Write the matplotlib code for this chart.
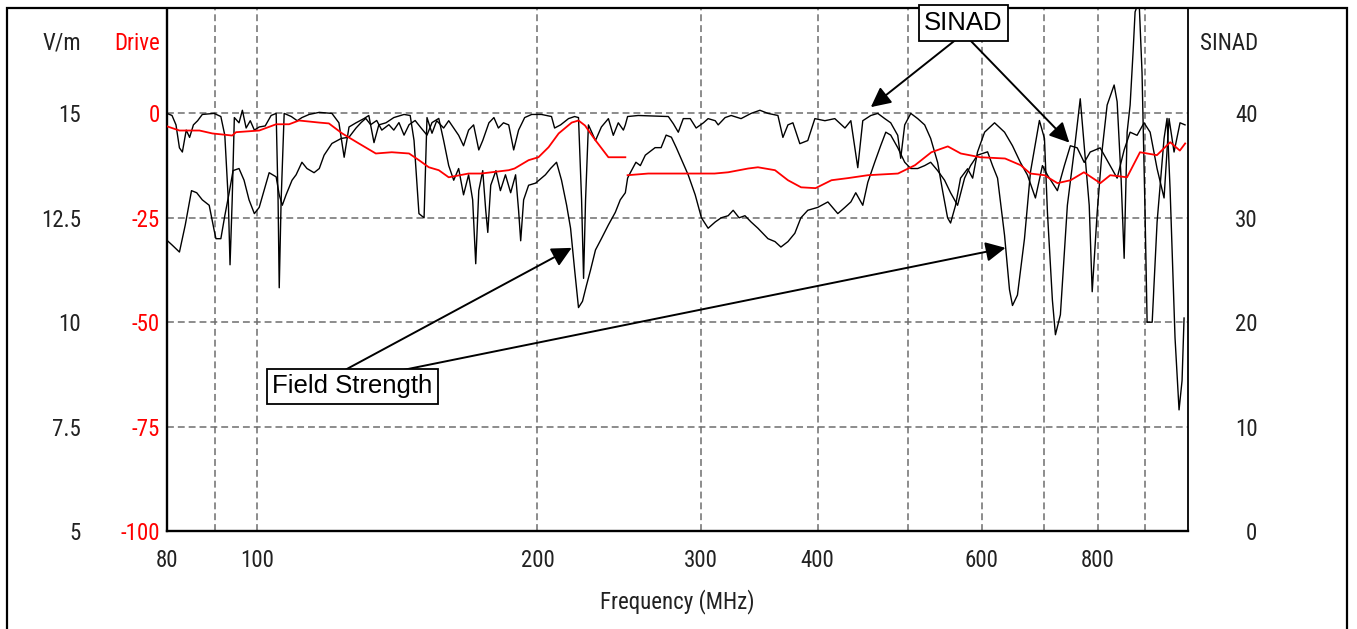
"""Recreates the radiated immunity sweep plot: field strength, drive level and SINAD vs frequency."""

import numpy as np
import matplotlib
matplotlib.use("Agg")
import matplotlib.pyplot as plt
from matplotlib import font_manager
from matplotlib.patches import Rectangle
from matplotlib.ticker import NullLocator, NullFormatter

W, H = 1357, 629


def pick_font(*names):
    installed = {f.name for f in font_manager.fontManager.ttflist}
    for n in names:
        if n in installed:
            return n
    return "DejaVu Sans"


NARROW = pick_font("Liberation Sans Narrow", "Roboto Condensed", "DejaVu Sans")
ARIAL = pick_font("Liberation Sans", "Arial", "DejaVu Sans")

# --- data ---------------------------------------------------------------
# drive level (dB), two sweep bands -> nan between them
drive_freq = [80.0, 82.5, 86.7, 89.5, 94.0, 94.9, 100.5, 104.8, 108.2, 110.9, 116.6, 119.4,
              123.4, 128.6, 134.1, 139.5, 145.6, 149.2, 152.9, 156.7, 160.6, 168.7, 174.0,
              186.3, 189.0, 195.7, 200.5, 205.6, 210.8, 217.7, 221.4, 225.0, 231.0, 238.4,
              248.6, np.nan,
              250.0, 263.1, 288.0, 310.0, 320.6, 336.8, 345.1, 360.0, 371.7, 384.0, 398.0,
              414.0, 431.1, 453.0, 488.0, 509.0, 530.0, 552.0, 570.0, 598.0, 636.0, 661.0,
              677.0, 701.0, 724.0, 748.0, 773.0, 805.0, 825.0, 860.0, 888.0, 926.0, 957.0,
              980.0, 993.0]
drive_db = [-3.1, -4.1, -4.1, -4.8, -5.3, -4.5, -4.1, -2.6, -2.6, -1.7, -2.2, -2.4,
            -4.8, -7.2, -9.6, -9.3, -9.6, -11.2, -12.9, -13.6, -15.3, -14.4, -14.4,
            -13.6, -13.2, -11.2, -10.5, -8.1, -4.8, -2.2, -1.7, -2.9, -6.5, -10.5,
            -10.5, np.nan,
            -14.8, -14.4, -14.4, -14.4, -14.1, -13.2, -12.9, -13.6, -16.0, -17.7, -17.9,
            -16.0, -15.5, -14.8, -14.4, -12.4, -9.3, -7.9, -9.6, -10.5, -10.8, -12.4,
            -14.4, -14.8, -16.7, -16.0, -14.1, -16.7, -14.8, -15.3, -9.3, -10.0, -6.9,
            -8.9, -7.2]

# SINAD (dB)
sinad_freq = [80.0, 81.0, 81.8, 82.5, 83.1, 83.9, 84.6, 85.4, 86.3, 87.3, 89.9, 91.4,
              92.3, 93.1, 93.5, 94.0, 94.5, 95.6, 96.4, 97.3, 98.3, 99.3, 100.5, 102.0,
              103.5, 104.8, 105.3, 105.6, 106.1, 106.9, 108.8, 110.4, 111.7, 113.7, 116.6,
              120.3, 122.4, 124.0, 125.5, 127.7, 130.2, 131.8, 133.5, 135.1, 137.5, 140.2,
              143.8, 146.0, 147.4, 149.2, 151.1, 152.2, 154.1, 155.9, 158.6, 160.6, 162.6,
              164.6, 166.6, 168.7, 170.8, 173.0, 174.7, 177.4, 179.6, 181.6, 183.9, 186.3,
              188.6, 190.9, 193.8, 197.2, 202.0, 207.1, 208.7, 211.8, 216.0, 219.3, 221.4,
              223.1, 224.2, 225.3, 226.9, 230.9, 234.3, 238.4, 241.3, 244.3, 247.4, 248.6,
              250.0, 256.7, 276.5, 280.0, 283.4, 286.9, 291.9, 296.2, 301.6, 305.1, 310.5,
              312.8, 318.2, 323.0, 331.0, 339.3, 346.8, 353.8, 362.6, 367.1, 371.7, 376.3,
              382.8, 390.4, 397.3, 407.3, 417.4, 428.0, 434.3, 441.8, 447.3, 456.3, 464.2,
              472.3, 479.3, 487.7, 491.3, 496.2, 503.7, 512.4, 521.3, 529.1, 538.3, 544.9,
              551.7, 555.8, 562.7, 569.7, 579.7, 587.0, 594.1, 604.6, 619.7, 635.2, 647.8,
              660.6, 672.2, 685.6, 697.6, 706.3, 723.9, 736.5, 747.5, 760.3, 773.6, 785.1,
              804.7, 824.8, 839.2, 853.9, 866.6, 881.6, 897.0, 910.6, 926.4, 942.5, 954.2,
              966.1, 980.5, 992.7]
sinad_db = [40.0, 39.8, 38.9, 36.7, 36.3, 38.4, 37.7, 38.9, 39.3, 39.9, 40.0, 39.7,
            37.9, 31.7, 25.5, 31.7, 39.6, 39.1, 40.3, 38.6, 39.3, 38.4, 38.7, 38.8,
            39.8, 40.0, 31.7, 23.3, 31.7, 40.0, 39.7, 39.3, 39.6, 39.9, 40.1,
            40.0, 39.1, 35.8, 38.7, 39.1, 39.5, 39.8, 37.2, 38.9, 39.1, 39.6,
            39.9, 39.8, 37.4, 30.4, 30.0, 39.6, 38.1, 39.3, 38.6, 39.3, 38.6,
            37.9, 36.9, 38.4, 38.9, 36.5, 37.4, 39.1, 39.6, 38.6, 39.1, 38.9,
            36.5, 38.4, 39.6, 39.9, 39.9, 39.7, 38.6, 38.9, 39.5, 39.7, 39.6,
            31.7, 24.2, 31.7, 38.9, 37.4, 38.7, 39.5, 37.9, 39.1, 38.4, 38.9,
            39.7, 39.8, 39.7, 39.0, 38.2, 39.5, 39.5, 38.6, 39.1, 39.5, 39.3,
            38.9, 39.6, 39.8, 39.5, 40.0, 40.3, 40.0, 39.8, 37.7, 38.9, 39.1,
            37.1, 37.4, 39.5, 39.3, 39.5, 38.6, 39.3, 34.8, 39.3, 39.8, 40.0,
            39.5, 39.1, 37.9, 35.7, 38.9, 40.0, 39.5, 38.9, 37.6, 35.3, 32.6,
            30.0, 29.5, 31.2, 33.8, 34.7, 33.8, 36.3, 38.2, 39.1, 38.2, 36.9,
            35.3, 34.1, 31.9, 35.0, 34.1, 32.6, 35.0, 36.9, 36.7, 35.3, 36.3,
            36.7, 35.0, 33.8, 36.5, 38.2, 37.9, 39.1, 38.2, 34.7, 31.9, 39.5,
            36.3, 39.1, 38.9]

# field strength (V/m)
field_freq = [80.0, 81.0, 82.5, 83.7, 85.0, 86.1, 87.3, 88.8, 89.9, 90.3, 91.4, 92.3,
              93.3, 94.2, 95.6, 96.8, 98.0, 99.3, 100.5, 101.7, 103.0, 104.8, 105.6, 106.4,
              107.4, 109.0, 110.1, 111.7, 113.1, 115.1, 116.6, 118.0, 120.3, 123.1, 125.5,
              127.7, 129.3, 130.8, 132.4, 134.4, 136.1, 138.5, 140.2, 142.0, 143.8, 145.6,
              147.8, 150.0, 152.2, 154.1, 156.7, 158.6, 160.6, 162.6, 164.6, 166.6, 168.7,
              170.4, 171.7, 173.0, 174.7, 176.0, 176.9, 178.2, 180.5, 182.5, 184.8, 187.2,
              189.5, 190.9, 191.9, 193.3, 195.7, 199.1, 202.0, 204.0, 206.6, 209.7, 212.3,
              215.0, 217.1, 219.3, 221.4, 223.6, 225.8, 228.1, 230.9, 234.3, 238.4, 242.5,
              245.5, 248.6,
              250.0, 251.0, 255.2, 258.0, 261.2, 267.6, 271.6, 275.0, 278.6, 282.0, 286.9,
              290.4, 295.5, 300.1, 305.1, 310.5, 315.1, 320.6, 324.6, 329.4, 334.2, 339.3,
              345.1, 353.8, 360.0, 365.3, 371.7, 378.1, 383.8, 390.4, 400.2, 410.3, 420.5,
              428.0, 434.3, 439.6, 447.3, 452.9, 460.7, 467.6, 473.5, 479.3, 487.7, 496.2,
              503.7, 512.4, 521.3, 529.1, 538.3, 547.6, 555.8, 565.5, 575.4, 584.0, 594.1,
              609.1, 616.6, 624.3, 635.2, 643.0, 647.8, 655.8, 667.3, 677.3, 692.4, 701.1,
              706.3, 715.0, 720.4, 729.3, 742.0, 754.9, 760.3, 766.0, 773.6, 783.2, 789.0,
              798.8, 808.7, 818.7, 833.0, 839.2, 847.6, 853.9, 860.2, 866.6, 873.1, 877.3,
              886.0, 892.5, 899.2, 903.8, 915.2, 926.4, 942.5, 949.5, 956.6, 968.4, 978.1,
              985.4, 990.3]
field_vm = [11.96, 11.85, 11.68, 12.33, 13.15, 13.10, 12.93, 12.80, 12.20, 12.00, 12.00, 12.55,
            13.10, 13.63, 13.68, 13.40, 12.93, 12.60, 12.75, 13.15, 13.58, 13.48, 13.05, 12.80,
            13.05, 13.40, 13.53, 13.83, 13.68, 13.58, 13.68, 14.00, 14.28, 14.40, 14.43,
            14.65, 14.78, 14.88, 14.73, 14.83, 14.60, 14.73, 14.60, 14.78, 14.48, 14.73,
            14.83, 14.65, 14.48, 14.78, 14.88, 14.35, 13.75, 13.40, 13.68, 13.05, 13.53,
            12.93, 11.40, 13.15, 13.63, 12.68, 12.15, 13.28, 13.63, 13.15, 13.53, 13.10,
            13.53, 12.68, 11.95, 12.93, 13.28, 13.33, 13.45, 13.53, 13.68, 13.83, 13.40,
            12.80, 12.25, 11.25, 10.35, 10.50, 10.88, 11.25, 11.73, 12.00, 12.33, 12.63,
            12.93, 13.10,
            13.45, 13.53, 13.83, 13.75, 14.00, 14.18, 14.18, 14.48, 14.43, 14.18, 13.80,
            13.53, 13.05, 12.50, 12.25, 12.40, 12.50, 12.55, 12.68, 12.50, 12.55, 12.40,
            12.25, 12.00, 11.93, 11.80, 11.93, 12.13, 12.50, 12.68, 12.75, 12.88, 12.60,
            12.75, 12.88, 13.10, 12.80, 13.35, 13.83, 14.23, 14.55, 14.48, 14.18, 13.83,
            13.68, 13.68, 13.75, 13.83, 13.63, 13.40, 13.10, 12.80, 13.45, 13.75, 14.00,
            14.08, 13.75, 13.45, 12.08, 10.78, 10.40, 10.65, 12.00, 13.60, 14.83, 14.40,
            12.63, 10.53, 9.70, 10.18, 12.80, 14.13, 14.73, 15.35, 14.23, 12.80, 10.73,
            12.63, 14.13, 15.20, 15.68, 15.28, 13.40, 11.53, 14.55, 15.20, 16.50, 17.43,
            17.70, 15.98, 12.63, 10.00, 10.00, 12.40, 14.40, 14.88, 13.20, 9.63, 7.90,
            8.60, 10.10]

x_ticks = [80, 100, 200, 300, 400, 600, 800]
x_grid = [90, 100, 200, 300, 400, 500, 600, 700, 800, 900]
vm_ticks = [5, 7.5, 10, 12.5, 15]
vm_labels = ["5", "7.5", "10", "12.5", "15"]
drive_ticks = [-100, -75, -50, -25, 0]
sinad_ticks = [0, 10, 20, 30, 40]

RED = "#ff0000"
TXT = "#222222"
GRID = "#6e6e6e"
FS = 16.5


def fx(px):
    return px / W


def fy(py):
    return 1 - py / H


def arrow(host, tip, tip_coords, start):
    host.annotate("", xy=tip, xycoords=tip_coords,
                  xytext=(fx(start[0]), fy(start[1])), textcoords="figure fraction",
                  arrowprops=dict(arrowstyle="-|>,head_length=0.6,head_width=0.3",
                                  mutation_scale=20, shrinkA=0, shrinkB=0,
                                  lw=1.4, color="black"),
                  annotation_clip=False)


def main():
    plt.rcParams["font.family"] = [NARROW, "DejaVu Sans"]
    fig = plt.figure(figsize=(W / 100, H / 100), dpi=100)
    ax = fig.add_axes([fx(167), fy(531), (1188 - 167) / W, (531 - 9) / H])
    ax_sinad = ax.twinx()
    ax_drive = ax.twinx()

    ax.set_xscale("log")
    ax.set_xlim(80, 1000)
    ax.set_ylim(5, 17.5)
    ax_sinad.set_ylim(0, 50)
    ax_drive.set_ylim(-100, 25)

    # grid
    dash = (0, (4.5, 2.6))
    for f in x_grid:
        ax.axvline(f, color=GRID, lw=1.1, ls=dash, zorder=0)
    for v in vm_ticks[1:]:
        ax.axhline(v, color=GRID, lw=1.1, ls=dash, zorder=0)

    ax.plot(field_freq, field_vm, color="black", lw=1.0)
    ax_sinad.plot(sinad_freq, sinad_db, color="black", lw=1.0)
    ax_drive.plot(drive_freq, drive_db, color=RED, lw=1.3)

    # x axis
    ax.set_xticks(x_ticks)
    ax.set_xticklabels([str(t) for t in x_ticks])
    ax.xaxis.set_minor_locator(NullLocator())
    ax.xaxis.set_minor_formatter(NullFormatter())
    ax.tick_params(axis="x", length=0, pad=13, labelsize=FS, labelcolor=TXT)
    ax.set_xlabel("Frequency (MHz)", fontsize=FS, color=TXT)
    ax.xaxis.set_label_coords(0.5, -0.112)

    # left: V/m and Drive columns
    ax.set_yticks(vm_ticks)
    ax.set_yticklabels(vm_labels)
    ax.tick_params(axis="y", length=0, pad=62, labelsize=FS, labelcolor=TXT)
    ax_drive.yaxis.tick_left()
    ax_drive.set_yticks(drive_ticks)
    ax_drive.set_yticklabels([str(t) for t in drive_ticks])
    ax_drive.tick_params(axis="y", length=0, pad=5, labelsize=FS, labelcolor=RED)

    # right: SINAD column
    ax_sinad.set_yticks(sinad_ticks)
    ax_sinad.set_yticklabels([str(t) for t in sinad_ticks])
    ax_sinad.tick_params(axis="y", length=0, pad=50, labelsize=FS, labelcolor=TXT)
    for lbl in ax_sinad.get_yticklabels():
        lbl.set_horizontalalignment("right")

    for a in (ax, ax_sinad, ax_drive):
        for s in a.spines.values():
            s.set_visible(False)
    ax.spines["left"].set_visible(True)
    ax.spines["left"].set_linewidth(1.7)
    ax.spines["bottom"].set_visible(True)
    ax.spines["bottom"].set_linewidth(1.7)
    ax_sinad.spines["right"].set_visible(True)
    ax_sinad.spines["right"].set_linewidth(1.3)

    # column headers
    fig.text(fx(81), fy(43), "V/m", ha="right", va="center", fontsize=FS, color=TXT)
    fig.text(fx(160), fy(43), "Drive", ha="right", va="center", fontsize=FS, color=RED)
    fig.text(fx(1258), fy(43), "SINAD", ha="right", va="center", fontsize=FS, color=TXT)

    # callouts
    box = dict(boxstyle="square,pad=0.22", fc="white", ec="black", lw=1.3)
    fig.text(fx(963.5), fy(23), "SINAD", ha="center", va="center", fontsize=18.5,
             family=ARIAL, bbox=box, zorder=5)
    fig.text(fx(352.5), fy(386.5), "Field Strength", ha="center", va="center", fontsize=18.5,
             family=ARIAL, bbox=box, zorder=5)
    arrow(ax_drive, (456.3, 40.6), ax_sinad.transData, (958, 38))
    arrow(ax_drive, (745.6, 37.2), ax_sinad.transData, (968, 38))
    arrow(ax_drive, (217.7, 11.78), ax.transData, (345, 370))
    arrow(ax_drive, (636.7, 11.78), ax.transData, (403, 370))

    # outer frame of the screenshot
    fig.add_artist(Rectangle((fx(7), -0.02), (1347 - 7) / W, fy(8) + 0.02,
                             transform=fig.transFigure, fill=False, ec="black", lw=1.6))

    fig.savefig("out.png", dpi=100, facecolor="white")
    plt.close(fig)


if __name__ == "__main__":
    main()
